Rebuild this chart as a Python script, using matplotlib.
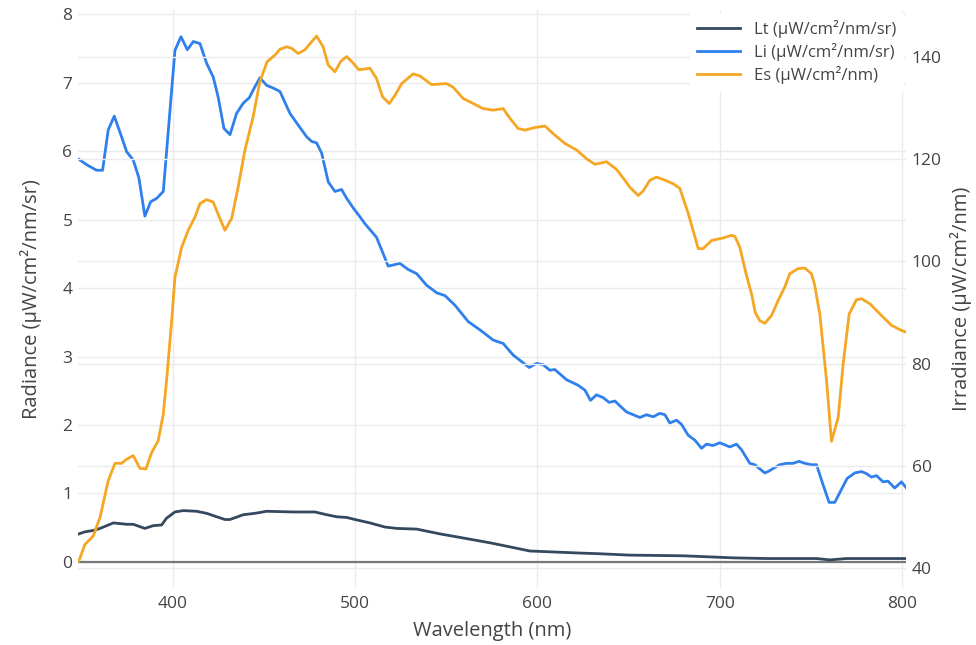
import matplotlib.pyplot as plt

plt.rcParams['font.family'] = ['Open Sans', 'DejaVu Sans']

# wavelength (nm) and values
wl_lt = [348.4, 351.7, 356.3, 360.0, 367.3, 374.6, 378.2, 384.6, 389.2, 393.8,
         396.5, 401.1, 405.7, 413.0, 418.5, 424.0, 428.5, 431.3, 438.6, 445.0,
         451.4, 466.0, 477.9, 484.3, 489.8, 495.3, 499.8, 508.1, 516.3, 522.7,
         533.7, 546.5, 559.2, 573.9, 584.9, 595.8, 605.0, 623.3, 634.2, 650.3,
         679.9, 707.3, 725.7, 753.1, 760.4, 769.5, 802.4]
lt = [0.41, 0.44, 0.46, 0.49, 0.57, 0.55, 0.55, 0.49, 0.53, 0.54,
      0.64, 0.73, 0.75, 0.74, 0.71, 0.66, 0.62, 0.62, 0.69, 0.71,
      0.74, 0.73, 0.73, 0.69, 0.66, 0.65, 0.62, 0.57, 0.51, 0.49,
      0.48, 0.41, 0.35, 0.28, 0.22, 0.16, 0.15, 0.13, 0.12, 0.10,
      0.09, 0.06, 0.05, 0.05, 0.03, 0.05, 0.05]

wl_li = [348.4, 352.7, 358.1, 361.4, 364.5, 367.8, 371.8, 374.6, 378.2, 381.3,
         384.6, 387.8, 391.1, 394.7, 401.1, 404.4, 407.9, 411.2, 414.8, 418.5,
         422.1, 424.8, 428.0, 431.3, 434.9, 438.6, 441.9, 445.0, 447.7, 451.4,
         455.0, 458.7, 464.2, 468.7, 473.3, 476.1, 478.8, 481.6, 485.2, 488.9,
         492.5, 495.3, 498.9, 502.6, 505.3, 511.7, 518.1, 524.5, 529.1, 533.7,
         539.2, 544.7, 549.2, 554.7, 562.0, 568.4, 575.7, 581.2, 586.7, 595.5,
         599.5, 603.1, 606.8, 609.5, 616.0, 622.3, 626.0, 629.1, 632.4, 636.0,
         639.3, 642.5, 645.2, 648.9, 652.5, 656.2, 659.8, 663.5, 667.1, 669.9,
         672.6, 676.3, 679.0, 682.7, 686.3, 690.0, 692.7, 696.3, 700.0, 705.5,
         709.2, 711.9, 716.5, 719.2, 724.7, 726.5, 732.9, 736.6, 740.2, 743.5,
         746.7, 750.3, 753.1, 756.4, 760.0, 763.1, 766.2, 769.9, 774.1, 777.8,
         780.5, 783.2, 786.0, 789.6, 792.3, 796.0, 799.7, 802.4]
li = [5.88, 5.80, 5.72, 5.72, 6.31, 6.51, 6.21, 5.99, 5.87, 5.61,
      5.05, 5.26, 5.31, 5.41, 7.47, 7.67, 7.48, 7.60, 7.57, 7.28,
      7.08, 6.79, 6.33, 6.24, 6.55, 6.70, 6.78, 6.94, 7.07, 6.96,
      6.92, 6.87, 6.55, 6.38, 6.21, 6.14, 6.12, 5.97, 5.55, 5.41,
      5.44, 5.31, 5.17, 5.04, 4.94, 4.74, 4.32, 4.36, 4.27, 4.21,
      4.04, 3.93, 3.89, 3.75, 3.51, 3.39, 3.24, 3.19, 3.02, 2.84,
      2.90, 2.88, 2.80, 2.81, 2.66, 2.58, 2.51, 2.36, 2.44, 2.40,
      2.33, 2.35, 2.28, 2.19, 2.15, 2.11, 2.15, 2.12, 2.17, 2.15,
      2.03, 2.07, 2.01, 1.85, 1.78, 1.66, 1.72, 1.70, 1.74, 1.68,
      1.72, 1.64, 1.44, 1.42, 1.30, 1.32, 1.42, 1.44, 1.44, 1.47,
      1.44, 1.42, 1.42, 1.15, 0.87, 0.87, 1.03, 1.22, 1.30, 1.32,
      1.29, 1.24, 1.26, 1.17, 1.18, 1.08, 1.17, 1.08]

wl_es = [348.4, 351.7, 356.3, 360.0, 364.5, 368.2, 371.9, 374.6, 378.2, 381.9,
         385.2, 388.3, 391.9, 394.7, 396.5, 399.3, 401.1, 404.8, 408.4, 412.1,
         414.8, 418.5, 422.1, 425.4, 428.5, 432.2, 435.8, 439.5, 444.0, 447.7,
         451.7, 456.0, 458.7, 462.4, 465.1, 468.7, 472.4, 476.1, 478.8, 482.4,
         485.2, 488.9, 492.0, 495.3, 498.9, 502.0, 508.1, 511.7, 515.0, 518.7,
         521.8, 525.5, 531.8, 535.5, 541.9, 550.1, 553.7, 559.2, 564.7, 570.2,
         575.7, 581.2, 584.9, 589.4, 593.1, 598.6, 604.1, 608.6, 615.0, 621.5,
         626.9, 631.5, 637.9, 643.4, 647.9, 650.7, 655.3, 658.0, 661.7, 665.3,
         669.9, 674.4, 678.1, 682.7, 688.2, 690.9, 695.5, 701.9, 706.5, 708.3,
         711.0, 714.5, 717.4, 719.5, 722.0, 724.7, 728.4, 732.1, 735.7, 738.4,
         743.0, 746.7, 750.3, 752.0, 754.9, 758.6, 761.3, 765.0, 767.7, 771.0,
         775.0, 777.8, 782.4, 788.8, 794.2, 799.7, 802.0]
es = [41.4, 44.6, 46.3, 49.9, 57.1, 60.5, 60.5, 61.3, 62.0, 59.5,
      59.4, 62.6, 64.9, 70.1, 76.7, 88.4, 96.9, 102.8, 106.1, 108.7,
      111.3, 112.1, 111.6, 108.7, 106.1, 108.4, 114.6, 121.8, 128.3, 135.2,
      139.1, 140.4, 141.5, 142.0, 141.7, 140.7, 141.4, 143.0, 144.1, 142.0,
      138.4, 137.1, 139.1, 140.1, 138.8, 137.5, 137.8, 135.8, 132.2, 130.9,
      132.5, 134.8, 136.7, 136.3, 134.6, 134.8, 134.1, 131.9, 130.9, 129.9,
      129.6, 129.9, 128.0, 126.0, 125.7, 126.2, 126.5, 125.0, 123.1, 121.8,
      120.1, 119.0, 119.5, 118.0, 115.9, 114.5, 112.9, 113.8, 115.9, 116.5,
      115.9, 115.2, 114.3, 109.4, 102.5, 102.5, 104.1, 104.6, 105.1, 104.9,
      102.8, 97.5, 93.7, 90.0, 88.4, 87.9, 89.4, 92.4, 95.0, 97.6,
      98.6, 98.7, 97.6, 95.5, 89.7, 76.7, 64.8, 69.5, 79.9, 89.7,
      92.5, 92.7, 91.7, 89.4, 87.5, 86.5, 86.2]

x_ticks = [400, 500, 600, 700, 800]
left_ticks = [0, 1, 2, 3, 4, 5, 6, 7, 8]
right_ticks = [40, 60, 80, 100, 120, 140]

c_lt = '#34495e'
c_li = '#2f80ed'
c_es = '#f5a623'
txt = '#444444'
grid = '#ebebeb'

fig = plt.figure(figsize=(9.76, 6.45), dpi=100)
ax = fig.add_axes([0.0799, 0.0884, 0.8484, 0.8961])
ax2 = ax.twinx()

l1, = ax.plot(wl_lt, lt, color=c_lt, lw=2, label='Lt (μW/cm²/nm/sr)')
l2, = ax.plot(wl_li, li, color=c_li, lw=2, label='Li (μW/cm²/nm/sr)')
l3, = ax2.plot(wl_es, es, color=c_es, lw=2, label='Es (μW/cm²/nm)')
ax.axhline(0, color='#777777', lw=1.6, zorder=1)

ax.set_xlim(347.9, 802.2)
ax.set_ylim(-0.38, 8.06)
ax2.set_ylim(36.1, 149.2)

ax.set_xticks(x_ticks)
ax.set_yticks(left_ticks)
ax2.set_yticks(right_ticks)

for a in (ax, ax2):
    for s in a.spines.values():
        s.set_visible(False)
    a.tick_params(length=0, labelsize=12.5, colors=txt)
    a.set_axisbelow(True)
ax.grid(True, color=grid, lw=1)
ax2.grid(True, axis='y', color=grid, lw=1)
ax.tick_params(axis='y', pad=4)
ax2.tick_params(axis='y', pad=4)
ax.tick_params(axis='x', pad=6)

ax.set_xlabel('Wavelength (nm)', fontsize=14.5, color=txt, labelpad=6)
ax.set_ylabel('Radiance (μW/cm²/nm/sr)', fontsize=14.5, color=txt, labelpad=15)
ax2.set_ylabel('Irradiance (μW/cm²/nm)', fontsize=14.5, color=txt, labelpad=6)

leg = ax2.legend(handles=[l1, l2, l3], loc='upper right', bbox_to_anchor=(1.0, 1.0),
                 frameon=True, fancybox=False, fontsize=12, borderpad=0.4,
                 handlelength=2.6, labelspacing=0.3, borderaxespad=0.2)
leg.get_frame().set_facecolor('white')
leg.get_frame().set_edgecolor('white')
leg.get_frame().set_alpha(1)
for t in leg.get_texts():
    t.set_color(txt)

fig.savefig('out.png', dpi=100)
